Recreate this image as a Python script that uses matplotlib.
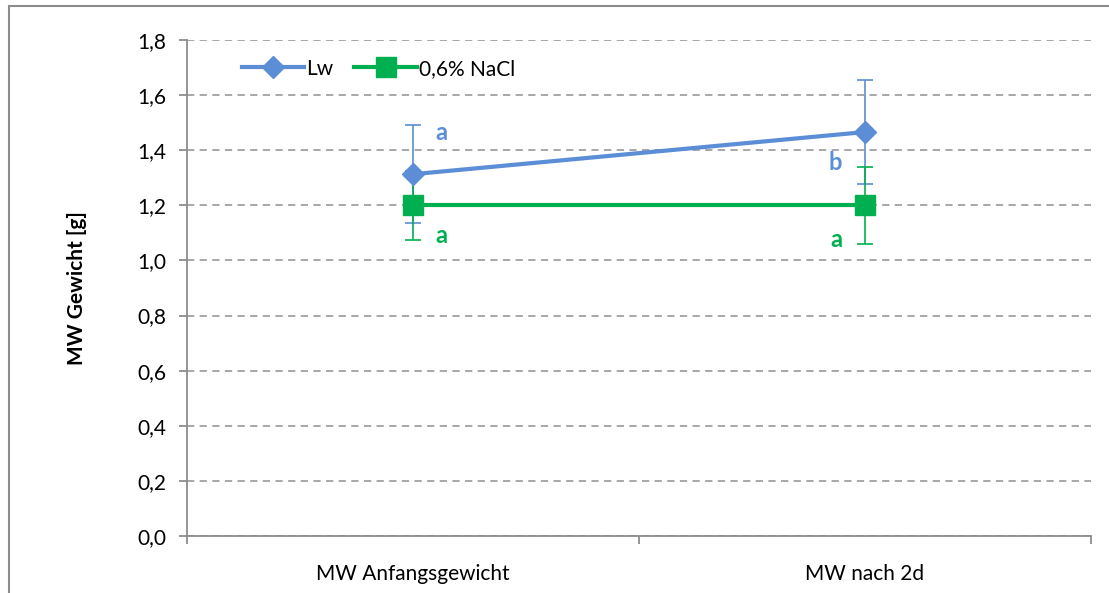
import matplotlib.pyplot as plt
from matplotlib.patches import Rectangle

plt.rcParams['font.family'] = ['Lato', 'DejaVu Sans']

categories = ['MW Anfangsgewicht', 'MW nach 2d']
lw_vals = [1.313, 1.466]
lw_err = [0.178, 0.19]
nacl_vals = [1.2, 1.2]
nacl_err = [0.126, 0.14]
lw_letters = ['a', 'b']
nacl_letters = ['a', 'a']

blue = '#5B8ED6'
green = '#00B050'
grey = '#8C8C8C'

fig = plt.figure(figsize=(11.09, 5.93), dpi=100)
ax = fig.add_axes([187/1109, 57/593, 904/1109, 496/593])

x = [0, 1]
# error bars first so markers sit on top
ax.errorbar(x, lw_vals, yerr=lw_err, fmt='none', ecolor=blue, elinewidth=1.2, capsize=6, capthick=1.2, zorder=3)
ax.errorbar(x, nacl_vals, yerr=nacl_err, fmt='none', ecolor=green, elinewidth=1.2, capsize=6, capthick=1.2, zorder=3)
ax.plot(x, lw_vals, color=blue, lw=3, marker='D', markersize=11, label='Lw', zorder=4)
ax.plot(x, nacl_vals, color=green, lw=3, marker='s', markersize=14, label='0,6% NaCl', zorder=4)

# significance letters
ax.text(0.05, lw_vals[0] + 0.15, lw_letters[0], color=blue, fontsize=17, fontweight='bold', ha='left', va='center')
ax.text(0.05, nacl_vals[0] - 0.11, nacl_letters[0], color=green, fontsize=17, fontweight='bold', ha='left', va='center')
ax.text(0.95, lw_vals[1] - 0.11, lw_letters[1], color=blue, fontsize=17, fontweight='bold', ha='right', va='center')
ax.text(0.95, nacl_vals[1] - 0.125, nacl_letters[1], color=green, fontsize=17, fontweight='bold', ha='right', va='center')

ax.set_xlim(-0.5, 1.5)
ax.set_ylim(0, 1.8)
ax.set_yticks([i * 0.2 for i in range(10)])
ax.set_yticklabels([('%.1f' % (i * 0.2)).replace('.', ',') for i in range(10)])
ax.yaxis.grid(True, linestyle=(0, (4, 3)), color='#A0A0A0', lw=1.3)
ax.set_axisbelow(True)

ax.set_xticks([-0.5, 0.5, 1.5])
ax.set_xticklabels([])
ax.set_xticks(x, minor=True)
ax.set_xticklabels(categories, minor=True)
ax.tick_params(axis='x', which='minor', length=0, pad=20, labelsize=15)
ax.tick_params(axis='x', which='major', length=6, color=grey, width=1.3)
ax.tick_params(axis='y', length=6, color=grey, width=1.3, labelsize=15, pad=9)

for s in ['top', 'right']:
    ax.spines[s].set_visible(False)
for s in ['left', 'bottom']:
    ax.spines[s].set_color(grey)
    ax.spines[s].set_linewidth(1.3)

ax.set_ylabel('MW Gewicht [g]', fontsize=15, fontweight='bold', labelpad=36)

ax.legend(loc='upper left', bbox_to_anchor=(0.04, 1.0), ncol=2, frameon=False, fontsize=15,
          handlelength=3, columnspacing=1.0, handletextpad=0.1)

# outer chart frame
fig.patches.append(Rectangle((9/1109, -0.1), 1.2, (587/593) + 0.1, transform=fig.transFigure,
                             fill=False, edgecolor=grey, lw=1.5))

fig.savefig('out.png', dpi=100)
